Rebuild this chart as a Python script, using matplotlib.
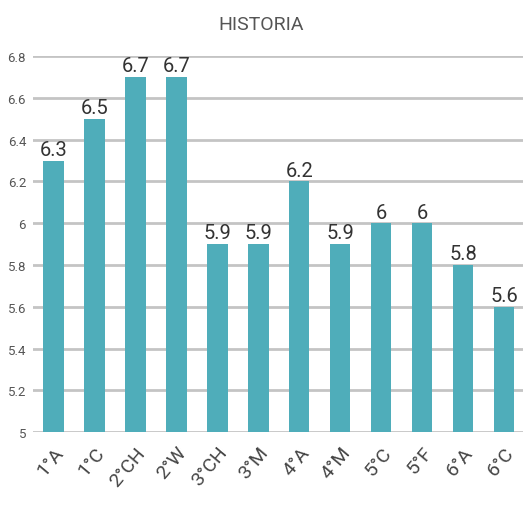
import matplotlib
matplotlib.use('Agg')
import matplotlib.pyplot as plt

categories = ['1°A', '1°C', '2°CH', '2°W', '3°CH', '3°M', '4°A', '4°M', '5°C', '5°F', '6°A', '6°C']
values = [6.3, 6.5, 6.7, 6.7, 5.9, 5.9, 6.2, 5.9, 6.0, 6.0, 5.8, 5.6]
value_labels = ['6.3', '6.5', '6.7', '6.7', '5.9', '5.9', '6.2', '5.9', '6', '6', '5.8', '5.6']
yticks = [5, 5.2, 5.4, 5.6, 5.8, 6, 6.2, 6.4, 6.6, 6.8]
ytick_labels = ['5', '5.2', '5.4', '5.6', '5.8', '6', '6.2', '6.4', '6.6', '6.8']

plt.rcParams['font.family'] = ['Roboto', 'DejaVu Sans']

fig = plt.figure(figsize=(5.23, 5.06), dpi=100)
ax = fig.add_axes([0.063, 0.144, 0.94, 0.743])

x = range(len(categories))
ax.bar(x, [v - 5 for v in values], bottom=5, width=0.5, color='#4FADBA', zorder=3)

for xi, v, lab in zip(x, values, value_labels):
    ax.text(xi, v + 0.008, lab, ha='center', va='bottom', fontsize=14.5, color='#333333', zorder=4)

ax.set_xlim(-0.5, 11.5)
ax.set_ylim(5, 6.8)
ax.set_yticks(yticks)
ax.set_yticklabels(ytick_labels, fontsize=9.5, color='#555555')
ax.set_xticks(list(x))
ax.set_xticklabels(categories, rotation=50, ha='right', rotation_mode='anchor',
                   fontsize=14, color='#444444')
ax.tick_params(axis='both', length=0)
ax.tick_params(axis='y', pad=5)
ax.tick_params(axis='x', pad=8)

ax.yaxis.grid(True, color='#c4c4c4', linewidth=2, zorder=0)
for s in ax.spines.values():
    s.set_visible(False)

fig.text(0.5, 0.951, 'HISTORIA', ha='center', va='center', fontsize=14, color='#555555')

fig.savefig('out.png', dpi=100)
